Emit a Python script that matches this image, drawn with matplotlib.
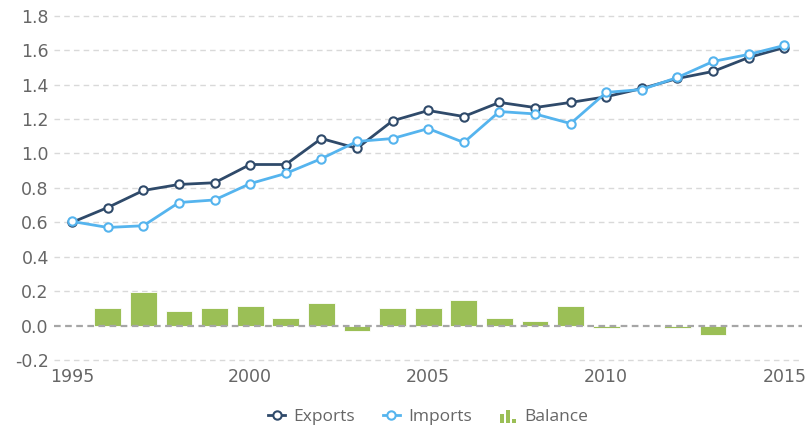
import matplotlib.pyplot as plt
import numpy as np
from matplotlib.legend_handler import HandlerBase
from matplotlib.patches import Rectangle

years = list(range(1995, 2016))
exports = [0.60, 0.686, 0.785, 0.82, 0.83, 0.936, 0.936, 1.087, 1.03, 1.19, 1.25,
           1.215, 1.297, 1.267, 1.297, 1.33, 1.378, 1.436, 1.477, 1.558, 1.616]
imports = [0.605, 0.57, 0.58, 0.715, 0.73, 0.825, 0.884, 0.97, 1.07, 1.087, 1.145,
           1.064, 1.244, 1.23, 1.174, 1.355, 1.372, 1.442, 1.535, 1.576, 1.628]
balance = [0.0, 0.10, 0.194, 0.083, 0.10, 0.116, 0.045, 0.132, -0.031, 0.10, 0.10,
           0.149, 0.045, 0.029, 0.116, -0.016, 0.0, -0.016, -0.056, 0.0, 0.0]
yticks = [-0.2, 0.0, 0.2, 0.4, 0.6, 0.8, 1.0, 1.2, 1.4, 1.6, 1.8]
xticks = [1995, 2000, 2005, 2010, 2015]

c_exp = "#2f4a6a"
c_imp = "#55b4ee"
c_bal = "#9bbf56"
c_txt = "#666666"


class BarIconHandler(HandlerBase):
    # little three-bar glyph like the original legend (sizes in points)
    def create_artists(self, legend, orig_handle, xdescent, ydescent, width, height, fontsize, trans):
        arts = []
        bw = 3.0
        gap = 1.6
        tot = 3 * bw + 2 * gap
        x0 = (width - tot) / 2 - xdescent
        y0 = -ydescent - 1.5
        for i, h in enumerate([6.5, 9.6, 3.0]):
            r = Rectangle((x0 + i * (bw + gap), y0), bw, h,
                          facecolor=c_bal, edgecolor="none", transform=trans)
            arts.append(r)
        return arts


fig = plt.figure(figsize=(8.11, 4.29), dpi=100)
ax = fig.add_axes([0.067, 0.161, 0.922, 0.802])

for y in yticks:
    if y == 0.0:
        continue
    ax.axhline(y, color="#d9d9d9", lw=1, ls=(0, (4, 3)), zorder=0, clip_on=False)
ax.axhline(0, color="#a6a6a6", lw=1.6, ls=(0, (3, 2)), zorder=3)

bars = ax.bar(years, balance, width=0.75, color=c_bal, edgecolor="white", linewidth=0.6, zorder=2)
l1, = ax.plot(years, exports, color=c_exp, lw=2, marker="o", ms=6, mfc="white",
              mec=c_exp, mew=1.5, zorder=4)
l2, = ax.plot(years, imports, color=c_imp, lw=2, marker="o", ms=6, mfc="white",
              mec=c_imp, mew=1.5, zorder=5)

ax.set_xlim(1994.5, 2015.5)
ax.set_ylim(-0.2, 1.8)
ax.set_yticks(yticks)
ax.set_yticklabels([f"{v:.1f}" for v in yticks])
ax.set_xticks(xticks)
ax.tick_params(length=0, labelsize=12.5, colors=c_txt, pad=6)
ax.tick_params(axis="y", pad=4)
for s in ax.spines.values():
    s.set_visible(False)

fig.legend([l1, l2, bars], ["Exports", "Imports", "Balance"],
           handler_map={type(bars): BarIconHandler()},
           loc="center", bbox_to_anchor=(0.528, 0.028), ncol=3, frameon=False,
           prop={"family": "Open Sans", "size": 12.5}, labelcolor=c_txt,
           handlelength=1.0, handletextpad=0.45, columnspacing=1.6)

fig.savefig("out.png", dpi=100)
